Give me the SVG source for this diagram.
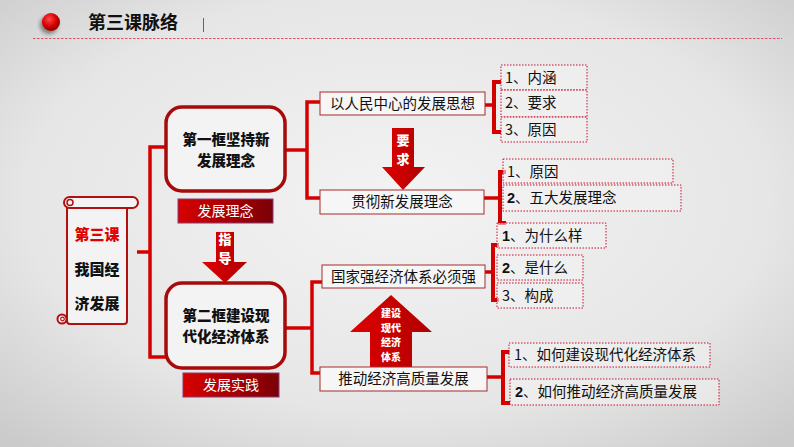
<svg xmlns="http://www.w3.org/2000/svg" width="794" height="447" viewBox="0 0 794 447">
<defs>
  <radialGradient id="bg" cx="50%" cy="45%" r="72%">
    <stop offset="0" stop-color="#f3f3f3"/>
    <stop offset="0.65" stop-color="#e6e6e6"/>
    <stop offset="1" stop-color="#cbcbcb"/>
  </radialGradient>
  <radialGradient id="dot" cx="40%" cy="35%" r="65%">
    <stop offset="0" stop-color="#ff4a4a"/>
    <stop offset="0.6" stop-color="#d80000"/>
    <stop offset="1" stop-color="#8a0000"/>
  </radialGradient>
  <linearGradient id="lbl" x1="0" y1="0" x2="1" y2="0">
    <stop offset="0" stop-color="#d80000"/>
    <stop offset="1" stop-color="#7a0008"/>
  </linearGradient>
  <linearGradient id="arr" x1="0" y1="0" x2="1" y2="0">
    <stop offset="0" stop-color="#e00000"/>
    <stop offset="1" stop-color="#b00000"/>
  </linearGradient>
  <filter id="sh" x="-50%" y="-50%" width="200%" height="200%">
    <feGaussianBlur in="SourceAlpha" stdDeviation="2"/>
    <feOffset dx="-2" dy="3"/>
    <feComponentTransfer><feFuncA type="linear" slope="0.45"/></feComponentTransfer>
    <feMerge><feMergeNode/><feMergeNode in="SourceGraphic"/></feMerge>
  </filter>
</defs>
<style>
  .cn{font-family:"Noto Sans CJK SC","Liberation Sans",sans-serif;}
  .frame{fill:#f3f3f3;stroke:#a80a0a;stroke-width:3.5;}
  .ftxt{font-family:"Noto Sans CJK SC",sans-serif;font-size:14.5px;font-weight:900;fill:#111;text-anchor:middle;}
  .lbl{fill:url(#lbl);stroke:#8b3a72;stroke-width:1;}
  .lbltxt{font-family:"Noto Sans CJK SC",sans-serif;font-size:14px;fill:#fff;text-anchor:middle;}
  .mid{fill:#f6f6f6;stroke:#a52a2a;stroke-width:1;}
  .midtxt{font-family:"Noto Sans CJK SC",sans-serif;font-size:14.5px;fill:#111;text-anchor:middle;}
  .item{fill:#f2f2f2;fill-opacity:0.6;stroke:#c8102e;stroke-width:1;stroke-dasharray:1.5 1.5;}
  .itxt{font-family:"Noto Sans CJK SC",sans-serif;font-size:14.5px;fill:#111;}
  .b{font-weight:bold;font-family:"Liberation Sans",sans-serif;}
  .conn{fill:none;stroke:#d40000;stroke-width:3.5;}
  .brk{fill:none;stroke:#d40000;stroke-width:4;}
  .arrow{fill:url(#arr);}
  .atxt{font-family:"Noto Sans CJK SC",sans-serif;font-weight:900;fill:#fff;text-anchor:middle;}
  .scroll{fill:#f3f3f3;stroke:#b01010;stroke-width:2;}
</style>
<rect x="0" y="0" width="794" height="447" fill="url(#bg)"/>

<g id="header">
  <circle cx="51" cy="22" r="9" fill="url(#dot)" filter="url(#sh)"/>
  <text x="88" y="29" class="cn" font-size="18" font-weight="bold" fill="#111">第三课脉络</text>
  <line x1="203.5" y1="18" x2="203.5" y2="32" stroke="#666" stroke-width="1"/>
  <line x1="33" y1="38.5" x2="782" y2="38.5" stroke="#d9506a" stroke-width="1" stroke-dasharray="2.5 1.5"/>
</g>

<g id="connectors">
  <path class="conn" d="M137,252 H150"/>
  <path class="conn" d="M166,147 H150 V357 H166"/>
  <path class="conn" d="M285,150 H307"/>
  <path class="conn" d="M321,102 H307 V198 H320"/>
  <path class="conn" d="M285,328 H312"/>
  <path class="conn" d="M322,282 H312 V373 H320"/>
  <path class="conn" d="M485,105 H494"/>
  <path class="brk" d="M501,82 H494 V132 H501"/>
  <path class="conn" d="M484,198 H500"/>
  <path class="brk" d="M506,172 H500 V223 H506"/>
  <path class="conn" d="M485,272 H493"/>
  <path class="brk" d="M499,245 H493 V300 H499"/>
  <path class="conn" d="M487,377 H503"/>
  <path class="brk" d="M510,352 H503 V403 H510"/>
</g>

<g id="scroll">
  <rect class="scroll" x="67" y="203" width="60" height="121" rx="3"/>
  <rect class="scroll" x="64" y="197" width="74" height="11" rx="5.5"/>
  <circle cx="70" cy="202.5" r="3" fill="none" stroke="#b01010" stroke-width="1.5"/>
  <circle cx="62" cy="319" r="4.5" class="scroll"/>
  <circle cx="62.5" cy="319" r="1.8" fill="none" stroke="#b01010" stroke-width="1.2"/>
  <text x="97" y="240" class="cn" font-size="15" font-weight="900" fill="#e00000" text-anchor="middle">第三课</text>
  <text x="97" y="275" class="cn" font-size="15" font-weight="900" fill="#111" text-anchor="middle">我国经</text>
  <text x="97" y="309" class="cn" font-size="15" font-weight="900" fill="#111" text-anchor="middle">济发展</text>
</g>

<g id="frame1">
  <rect class="frame" x="166" y="107" width="119" height="84" rx="16"/>
  <text class="ftxt" x="226" y="145">第一框坚持新</text>
  <text class="ftxt" x="226" y="166">发展理念</text>
</g>
<g id="label1">
  <rect class="lbl" x="178" y="199" width="95" height="24"/>
  <text class="lbltxt" x="225.5" y="216">发展理念</text>
</g>
<g id="arrow-guide">
  <polygon class="arrow" points="216,232 234,232 234,262 247,262 225,283 202,262 216,262"/>
  <text class="atxt" x="225" y="244" font-size="13">指</text>
  <text class="atxt" x="225" y="263" font-size="13">导</text>
</g>
<g id="frame2">
  <rect class="frame" x="166" y="283" width="119" height="85" rx="16"/>
  <text class="ftxt" x="226" y="321">第二框建设现</text>
  <text class="ftxt" x="226" y="342">代化经济体系</text>
</g>
<g id="label2">
  <rect class="lbl" x="183" y="373" width="96" height="24"/>
  <text class="lbltxt" x="231" y="390">发展实践</text>
</g>

<g id="arrow-require">
  <polygon class="arrow" points="392,128 414,128 414,167 425,167 403,190 382,167 392,167"/>
  <text class="atxt" x="403" y="145" font-size="13">要</text>
  <text class="atxt" x="403" y="164" font-size="13">求</text>
</g>
<g id="arrow-build">
  <polygon class="arrow" points="391,295 432,332 412,332 412,367 370,367 370,332 350,332"/>
  <text class="atxt" x="391" y="317" font-size="10">建设</text>
  <text class="atxt" x="391" y="331.5" font-size="10">现代</text>
  <text class="atxt" x="391" y="346" font-size="10">经济</text>
  <text class="atxt" x="391" y="360.5" font-size="10">体系</text>
</g>

<g id="m1">
  <rect class="mid" x="320" y="92" width="165" height="23"/>
  <text class="midtxt" x="402.5" y="108.5">以人民中心的发展思想</text>
</g>
<g id="m2">
  <rect class="mid" x="320" y="190" width="164" height="24"/>
  <text class="midtxt" x="402" y="207">贯彻新发展理念</text>
</g>
<g id="m3">
  <rect class="mid" x="322" y="265" width="163" height="23"/>
  <text class="midtxt" x="403.5" y="281.5">国家强经济体系必须强</text>
</g>
<g id="m4">
  <rect class="mid" x="320" y="367" width="167" height="24"/>
  <text class="midtxt" x="403.5" y="384">推动经济高质量发展</text>
</g>

<g id="g1">
  <rect class="item" x="501" y="65" width="86" height="25"/>
  <text class="itxt" x="505" y="83">1、内涵</text>
  <rect class="item" x="501" y="90" width="86" height="27"/>
  <text class="itxt" x="505" y="108">2、要求</text>
  <rect class="item" x="501" y="117" width="86" height="25"/>
  <text class="itxt" x="505" y="135">3、原因</text>
</g>
<g id="g2">
  <rect class="item" x="503" y="159" width="170" height="24"/>
  <text class="itxt" x="507" y="177">1、原因</text>
  <rect class="item" x="503" y="185" width="178" height="26"/>
  <text class="itxt" x="507" y="203"><tspan class="b">2</tspan>、五大发展理念</text>
</g>
<g id="g3">
  <rect class="item" x="497" y="223" width="109" height="25"/>
  <text class="itxt" x="502" y="241"><tspan class="b">1</tspan>、为什么样</text>
  <rect class="item" x="497" y="255" width="86" height="25"/>
  <text class="itxt" x="502" y="273"><tspan class="b">2</tspan>、是什么</text>
  <rect class="item" x="497" y="283" width="86" height="25"/>
  <text class="itxt" x="502" y="301">3、构成</text>
</g>
<g id="g4">
  <rect class="item" x="509" y="343" width="201" height="24"/>
  <text class="itxt" x="514" y="360">1、如何建设现代化经济体系</text>
  <rect class="item" x="510" y="379" width="209" height="26"/>
  <text class="itxt" x="515" y="397"><tspan class="b">2</tspan>、如何推动经济高质量发展</text>
</g>
</svg>
